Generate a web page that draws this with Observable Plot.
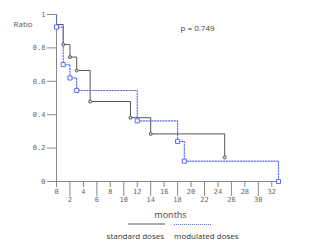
<!DOCTYPE html>
<html>
<head>
<meta charset="utf-8">
<script src="https://cdn.jsdelivr.net/npm/d3@7"></script>
<script src="https://cdn.jsdelivr.net/npm/@observablehq/plot@0.6"></script>
<style>
  html, body { margin: 0; padding: 0; background: #fff; }
  #wrap { position: relative; width: 309px; height: 244px; overflow: hidden; font-family: "Open Sans", sans-serif; }
  .leg { position: absolute; font-size: 8px; color: #333; white-space: nowrap; line-height: 10px; }
  .sw { position: absolute; height: 0; }
</style>
</head>
<body>
<div id="wrap"></div>
<script>
// Data (months, survival ratio)
const stdTimes = [0, 0, 1, 2, 3, 5, 11, 14, 25];
const stdSurv  = [1, 0.94, 0.82, 0.745, 0.665, 0.479, 0.382, 0.285, 0.144];
const stdMarkTimes = [1, 2, 3, 5, 11, 14, 25];
const stdMarkSurv  = [0.82, 0.745, 0.665, 0.479, 0.382, 0.285, 0.144];

const modTimes = [0, 0, 1, 2, 3, 12, 18, 19, 33];
const modSurv  = [1, 0.925, 0.70, 0.62, 0.545, 0.363, 0.24, 0.122, 0];
const modMarkTimes = [0, 1, 2, 3, 12, 18, 19, 33];
const modMarkSurv  = [0.925, 0.70, 0.62, 0.545, 0.363, 0.24, 0.122, 0];

const xTicksShort = [0, 4, 8, 12, 16, 20, 24, 28, 32];
const xTicksLong  = [2, 6, 10, 14, 18, 22, 26, 30];
const yTicks = [0, 0.2, 0.4, 0.6, 0.8, 1];

const seriesNames = ["standard doses", "modulated doses"];
const pText = "p = 0.749";
const xLabel = "months";
const yLabel = "Ratio";

const stdLine = stdTimes.map((t, i) => ({t, s: stdSurv[i]}));
const modLine = modTimes.map((t, i) => ({t, s: modSurv[i]}));
const stdMarks = stdMarkTimes.map((t, i) => ({t, s: stdMarkSurv[i]}));
const modMarks = modMarkTimes.map((t, i) => ({t, s: modMarkSurv[i]}));

const axisColor = "#888";
const stdColor = "#555";
const modColor = "#5a6cff";
const mono = "'DejaVu Sans Mono', monospace";

const chart = Plot.plot({
  width: 309,
  height: 222,
  marginLeft: 56,
  marginRight: 31,
  marginTop: 14,
  marginBottom: 41,
  style: {fontFamily: "'Open Sans', sans-serif", fontSize: "8px", color: "#666", background: "#fff"},
  x: {domain: [0, 33]},
  y: {domain: [0, 1]},
  marks: [
    Plot.ruleX([0], {stroke: axisColor}),
    Plot.ruleY([0], {stroke: axisColor}),
    Plot.axisY(yTicks, {
      tickSize: 9, tickPadding: 2, stroke: axisColor, fill: "#666",
      fontFamily: mono, fontSize: 7,
      tickFormat: d => (d === 0 || d === 1) ? String(d) : d.toFixed(1),
      label: null
    }),
    Plot.axisX(xTicksShort, {
      tickSize: 6, tickPadding: 2, stroke: axisColor, fill: "#666",
      fontFamily: mono, fontSize: 7, tickFormat: d => String(d), label: null
    }),
    Plot.axisX(xTicksLong, {
      tickSize: 15, tickPadding: 1, stroke: axisColor, fill: "#666",
      fontFamily: mono, fontSize: 7, tickFormat: d => String(d), label: null
    }),
    Plot.line(stdLine, {x: "t", y: "s", curve: "step-after", stroke: stdColor, strokeWidth: 1}),
    Plot.line(modLine, {x: "t", y: "s", curve: "step-after", stroke: modColor, strokeWidth: 1.2, strokeDasharray: "1.2,1.6"}),
    Plot.dot(stdMarks, {x: "t", y: "s", r: 1.5, stroke: stdColor, fill: "#ddd", strokeWidth: 1}),
    Plot.dot(modMarks, {x: "t", y: "s", symbol: "square", r: 2.3, stroke: modColor, fill: "#fff", strokeWidth: 1}),
    Plot.text([yLabel], {frameAnchor: "top-left", dx: -43, dy: 7, textAnchor: "start", fill: "#555", fontSize: 8}),
    Plot.text([pText], {frameAnchor: "top-left", dx: 124, dy: 11, textAnchor: "start", fill: "#444", fontSize: 8}),
    Plot.text([xLabel], {frameAnchor: "bottom", dx: 3, dy: 36, fill: "#444", fontSize: 9})
  ]
});

const wrap = document.getElementById("wrap");
chart.style.position = "absolute";
chart.style.left = "0px";
chart.style.top = "0px";
wrap.appendChild(chart);

// Legend below the plot
function add(html, style, cls) {
  const d = document.createElement("div");
  d.className = cls;
  d.innerHTML = html;
  Object.assign(d.style, style);
  wrap.appendChild(d);
}
add("", {left: "128px", top: "223px", width: "37px", borderTop: "2px solid #aaa"}, "sw");
add("", {left: "174px", top: "223.5px", width: "37px", borderTop: "1.3px dotted " + modColor}, "sw");
add(seriesNames[0], {right: (309 - 164) + "px", top: "231px"}, "leg");
add(seriesNames[1], {left: "174px", top: "231px"}, "leg");
</script>
</body>
</html>
